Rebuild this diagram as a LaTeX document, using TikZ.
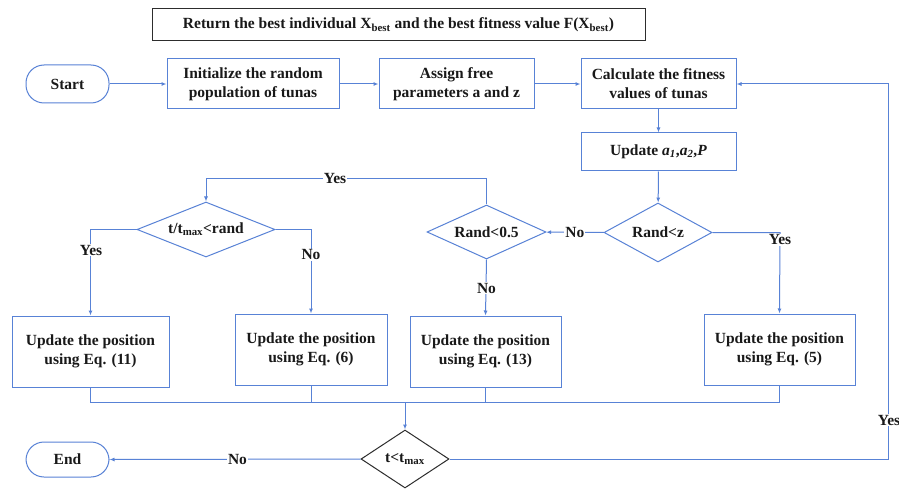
\documentclass[tikz,border=0pt]{standalone}
\usepackage{fontspec}
\setmainfont{Liberation Serif}
\usetikzlibrary{shapes.geometric,arrows.meta}
\definecolor{lb}{RGB}{88,130,214}
\definecolor{dk}{RGB}{45,45,45}
\definecolor{tx}{RGB}{25,25,25}
\begin{document}
\begin{tikzpicture}[x=1pt,y=-1pt,
  every node/.style={font=\fontsize{15.5}{19}\selectfont\bfseries, text=tx},
  box/.style={draw=lb, line width=1pt, rectangle, inner sep=0pt, align=center},
  term/.style={draw=lb, line width=1pt, rectangle, rounded corners=18pt, inner sep=0pt},
  dia/.style={draw=lb, line width=1pt, shape=diamond, aspect=2.3, inner sep=0pt},
  conn/.style={draw=lb, line width=1pt},
  arr/.style={conn, -{Latex[length=5pt,width=4pt]}},
  lab/.style={fill=white, inner sep=1pt}]
\useasboundingbox (0,0) rectangle (899,489);
\fill[white] (0,0) rectangle (899,489);

\node[draw=dk, line width=1pt, rectangle, minimum width=493pt, minimum height=32pt] (title) at (398.5,25)
  {Return the best individual X\textsubscript{best} and the best fitness value F(X\textsubscript{best})};

\node[term, minimum width=83pt, minimum height=38pt] (start) at (67.5,84) {Start};
\node[box, minimum width=172pt, minimum height=50pt] (init) at (253,84) {Initialize the random\\population of tunas};
\node[box, minimum width=155pt, minimum height=50pt] (assign) at (456.5,84) {Assign free\\parameters a and z};
\node[box, minimum width=155pt, minimum height=50pt] (calc) at (658.5,84) {Calculate the fitness\\values of tunas};
\node[box, minimum width=155pt, minimum height=38pt] (upd) at (658.5,152)
  {Update \textit{a}\textsubscript{\textit{1}},\textit{a}\textsubscript{\textit{2}},\textit{P}};

\node[dia, minimum width=108pt, minimum height=59pt] (rz) at (658,232.5) {Rand<z};
\node[dia, minimum width=119pt, minimum height=54pt] (r05) at (486.5,232) {Rand<0.5};
\node[dia, minimum width=138pt, minimum height=55pt] (tt) at (206,229.5) {t/t\textsubscript{max}<rand};

\node[box, minimum width=157pt, minimum height=71pt] (e11) at (90.5,351.5) {Update the position\\using Eq. (11)};
\node[box, minimum width=152pt, minimum height=71pt] (e6) at (311,349.5) {Update the position\\using Eq. (6)};
\node[box, minimum width=151pt, minimum height=71pt] (e13) at (485.5,351.5) {Update the position\\using Eq. (13)};
\node[box, minimum width=151pt, minimum height=71pt] (e5) at (779.5,349.5) {Update the position\\using Eq. (5)};

\node[dia, draw=dk, minimum width=88pt, minimum height=58pt] (tl) at (405,459) {t<t\textsubscript{max}};
\node[term, minimum width=83pt, minimum height=35pt] (end) at (67.5,459.5) {End};

\coordinate (m1) at (90.5,402);
\coordinate (m2) at (779.5,402);
\coordinate (m6) at (311,402);
\coordinate (m13) at (485.5,402);
\coordinate (mc) at (405,402);
\coordinate (ytop) at (486.5,179);
\coordinate (loopb) at (888,459);
\coordinate (loopt) at (888,84);
\coordinate (rzc) at (780,232.5);

\draw[arr] (start) -- (init);
\draw[arr] (init) -- (assign);
\draw[arr] (assign) -- (calc);
\draw[arr] (calc) -- (upd);
\draw[arr] (upd) -- (rz);
\draw[arr] (rz) -- node[lab] {No} (r05);
\draw[arr] (rz.east) -- (rzc) -- (e5.north);
\node[lab] (yes1) at (780,240) {Yes};
\draw[arr] (r05.north) -- (ytop) -| (tt.north);
\node[lab] (yes2) at (335,179) {Yes};
\draw[arr] (tt.west) -| (e11.north);
\node[lab] (yes3) at (91,250) {Yes};
\draw[arr] (tt.east) -| (e6.north);
\node[lab] (no2) at (311,255) {No};
\draw[arr] (r05.south) -- (e13.north);
\node[lab] (no3) at (486.5,288) {No};

\draw[conn] (e11.south) -- (m1) -- (m2) -- (e5.south);
\draw[conn] (e6.south) -- (m6);
\draw[conn] (e13.south) -- (m13);
\draw[arr] (mc) -- (tl.north);

\draw[arr] (tl.west) -- node[lab, pos=0.49] {No} (end.east);
\draw[arr] (tl.east) -- (loopb) -- (loopt) -- (calc.east);
\node[lab] (yes4) at (889,420) {Yes};
\end{tikzpicture}
\end{document}
